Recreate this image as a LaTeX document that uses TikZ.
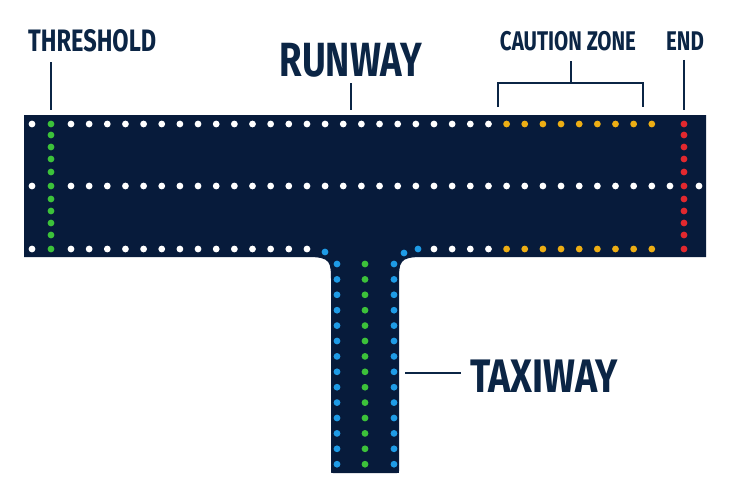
\documentclass[tikz,border=0pt]{standalone}
\usepackage{fontspec}
\setmainfont{Fira Sans}
\definecolor{navy}{HTML}{071B3B}
\definecolor{inkblue}{HTML}{0B2545}
\definecolor{lampwhite}{HTML}{FFFFFF}
\definecolor{lampgreen}{HTML}{3CC23A}
\definecolor{lampamber}{HTML}{EDAE14}
\definecolor{lampred}{HTML}{E2282E}
\definecolor{lampblue}{HTML}{1E9BE6}
\tikzset{
  lamp/.style={fill=#1, draw=none},
  tag/.style={text=inkblue, font=\bfseries, inner sep=0pt},
  tick/.style={draw=inkblue, line width=1.6pt}
}
\newcommand{\narrow}[3][0.76]{\fontsize{#2}{#2}\selectfont\scalebox{#1}[1]{#3}}
\begin{document}
\begin{tikzpicture}[x=1pt, y=-1pt]
    \useasboundingbox (0,0) rectangle (730,503);

    \def \s {18.15};
    \def \r {3.4};

    % Runway and taxiway surface
    \fill[navy] (24,115) -- (706,115) -- (706,257) -- (422,257)
        .. controls (399,257) and (399,262) .. (399,282) -- (399,471)
        .. controls (399,473) .. (397,473) -- (333,473)
        .. controls (331,473) .. (331,471) -- (331,282)
        .. controls (331,262) and (331,257) .. (308,257) -- (24,257) -- cycle;

    % Edge and centre lights
    \foreach \y in {124, 186, 249}
        \fill[lamp=lampwhite] (32, \y) circle (\r);
    \foreach \k in {0,...,23}
        \fill[lamp=lampwhite] (71+\k*\s, 124) circle (\r);
    \foreach \k in {24,...,32}
        \fill[lamp=lampamber] (71+\k*\s, 124) circle (\r);
    \foreach \k in {0,...,33}
        \fill[lamp=lampwhite] (71+\k*\s, 186) circle (\r);
    \fill[lamp=lampwhite] (699, 186) circle (\r);
    \foreach \k in {0,...,13, 20, 21, 22, 23}
        \fill[lamp=lampwhite] (71+\k*\s, 249) circle (\r);
    \foreach \k in {24,...,32}
        \fill[lamp=lampamber] (71+\k*\s, 249) circle (\r);

    % Threshold and end bars
    \foreach \y in {124, 135, 147, 159, 172, 186, 199, 211, 223, 235, 249}
    {
        \fill[lamp=lampgreen] (51, \y) circle (\r);
        \fill[lamp=lampred] (684, \y) circle (\r);
    }

    % Taxiway lights
    \foreach \p in {(325,252), (404,253), (418,249)}
        \fill[lamp=lampblue] \p circle (\r);
    \foreach \k in {0,...,13}
    {
        \fill[lamp=lampblue] (337, 264+\k*15.4) circle (\r);
        \fill[lamp=lampblue] (394, 264+\k*15.4) circle (\r);
        \fill[lamp=lampgreen] (365, 264+\k*15.4) circle (\r);
    }

    % Labels
    \node[tag, anchor=base west] (threshold) at (28,52) {\narrow{31}{THRESHOLD}};
    \node[tag, anchor=base] (runway) at (351,77) {\narrow{48}{RUNWAY}};
    \node[tag, anchor=base] (caution) at (568,51) {\narrow{27}{CAUTION ZONE}};
    \node[tag, anchor=base] (end) at (685,51) {\narrow{27}{END}};
    \node[tag, anchor=base west] (taxiway) at (470,392) {\narrow[0.8]{47}{TAXIWAY}};

    \coordinate (thr) at (51,110);
    \coordinate (rwy) at (351,110);
    \coordinate (fin) at (684,110);
    \coordinate (twy) at (405,373);

    \draw[tick] (51,62) -- (thr);
    \draw[tick] (351,83) -- (rwy);
    \draw[tick] (684,60) -- (fin);
    \draw[tick] (571,61) -- (571,83);
    \draw[tick] (498,107) -- (498,83) -- (643,83) -- (643,107);
    \draw[tick] (twy) -- (461,373);

\end{tikzpicture}
\end{document}
